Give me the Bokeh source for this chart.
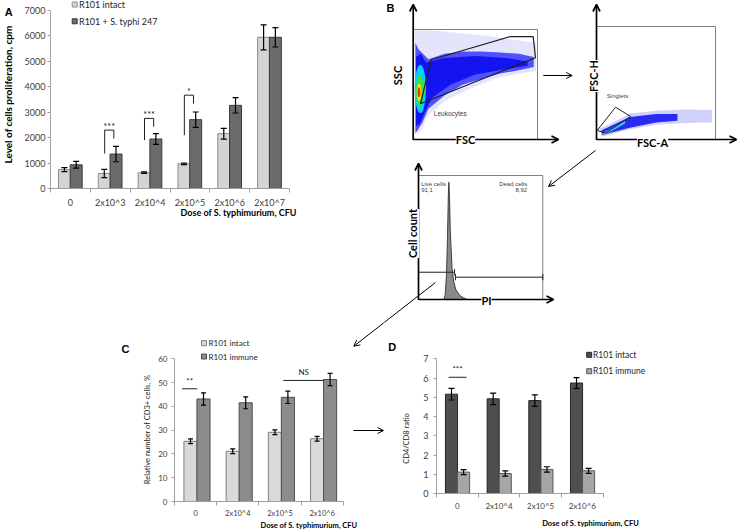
from math import pi
from bokeh.plotting import figure
from bokeh.models import (Range1d, FixedTicker, ColumnDataSource, Whisker, TeeHead,
                          Label, Arrow, OpenHead, Title)
from bokeh.layouts import row, column
from bokeh.embed import file_html
from bokeh.resources import INLINE

# ---------------- Panel A data ----------------
A_doses = ["0", "2x10^3", "2x10^4", "2x10^5", "2x10^6", "2x10^7"]
A_intact = [740, 590, 620, 970, 2150, 5930]
A_intact_err = [80, 160, 30, 30, 210, 490]
A_typhi = [930, 1350, 1940, 2700, 3260, 5930]
A_typhi_err = [130, 300, 210, 300, 300, 380]
A_yticks = [0, 1000, 2000, 3000, 4000, 5000, 6000, 7000]
A_series = ["R101 intact", "R101 + S. typhi 247"]
A_sig_cat = [1, 2, 3]
A_sig_left_low = [1370, 1900, 2090]
A_sig_top = [2290, 2750, 3660]
A_sig_right_low = [1960, 2420, 3330]
A_sig_text = ["***", "***", "*"]

# ---------------- Panel C data ----------------
C_doses = ["0", "2x10^4", "2x10^5", "2x10^6"]
C_intact = [25.3, 21.1, 29.1, 26.4]
C_intact_err = [1.0, 1.0, 1.0, 1.0]
C_immune = [43.1, 41.5, 43.8, 51.3]
C_immune_err = [2.6, 2.5, 2.6, 2.6]
C_yticks = [0, 10, 20, 30, 40, 50, 60]
C_series = ["R101 intact", "R101 immune"]
C_sig_from = [0.18, 2.58]
C_sig_to = [0.54, 3.54]
C_sig_y = [47.4, 50.9]
C_sig_text = ["**", "NS"]

# ---------------- Panel D data ----------------
D_doses = ["0", "2x10^4", "2x10^5", "2x10^6"]
D_intact = [5.16, 4.92, 4.83, 5.74]
D_intact_err = [0.30, 0.30, 0.30, 0.28]
D_immune = [1.11, 1.04, 1.25, 1.18]
D_immune_err = [0.13, 0.14, 0.14, 0.13]
D_yticks = [0, 1, 2, 3, 4, 5, 6, 7]
D_series = ["R101 intact", "R101 immune"]
D_sig_from = [0.29]
D_sig_to = [0.72]
D_sig_y = [6.04]
D_sig_text = ["***"]

# ---------------- Panel B (flow cytometry, each plot in its own 0-100 units) ----------------
LEUK_GATE_X = [5.6, 14.3, 78.2, 96.5, 98.4]
LEUK_GATE_Y = [32.5, 72.5, 93.6, 93.6, 74.3]
SSC_HAZE_X = [1, 1, 15, 35, 60, 85, 99, 99, 85, 65, 45, 25, 12, 6]
SSC_HAZE_Y = [5, 99, 99, 97, 94, 90, 88, 62, 60, 55, 46, 35, 22, 8]
SSC_BAND_X = [1.5, 4, 12, 25, 40, 55, 70, 85, 97, 97, 85, 70, 55, 40, 25, 12, 7, 3, 1.5]
SSC_BAND_Y = [88, 82, 73, 78, 80, 80, 79, 78, 75, 66, 63, 60, 55, 50, 40, 28, 15, 8, 6]
SSC_CORE_X = [2, 6, 10, 25, 50, 75, 92, 92, 75, 50, 30, 15, 9, 5, 2]
SSC_CORE_Y = [75, 78, 70, 74, 76, 74, 71, 67, 64, 59, 50, 38, 24, 14, 12]
SSC_HOT_X = [5.5, 8.5, 5.0, 4.6, 4.4]
SSC_HOT_Y = [46, 47, 44, 43, 43]
SSC_HOT_W = [9, 3, 6, 3.5, 2.2]
SSC_HOT_H = [44, 14, 30, 16, 9]

SING_GATE_X = [0.6, 16, 28.6, 7.6]
SING_GATE_Y = [8.0, 28.6, 20.4, 5.6]
FSC_HAZE_X = [3, 12, 28, 50, 75, 97, 97, 75, 50, 28, 12, 4]
FSC_HAZE_Y = [10, 14, 23, 25.5, 26.5, 26, 15, 14.5, 13, 9, 4.5, 2.5]
FSC_BAND_X = [4, 12, 28, 50, 68, 68, 50, 28, 12, 5]
FSC_BAND_Y = [8, 12, 20, 22.5, 22.5, 16.5, 15, 10.5, 6, 4]
FSC_CORE_X = [5, 12, 24, 24, 12, 6]
FSC_CORE_Y = [5.5, 9.5, 16.5, 14, 7, 4]

HIST_X = [20.4, 21.5, 22.5, 23.3, 24.0, 24.4, 24.9, 25.6, 26.3, 27.0, 28.5, 30, 33, 36, 39.2]
HIST_Y = [0, 4, 20, 50, 85, 94.6, 85, 55, 40, 25, 14, 8, 3.5, 1.5, 0]
GATE_X0 = [0, 29.8]
GATE_X1 = [29, 100]
GATE_Y = [22, 18]
GATE_NAMES = ["Live cells", "Dead cells"]
GATE_PCT = ["91,1", "8,92"]

X_TITLE = "Dose of S. typhimurium, CFU"

# ---------------- layout helpers ----------------
FONT = "Lato"
LETTER_FONT = "Liberation Sans"
AXIS_GRAY = "#a0a0a0"
TICK_TXT = "#404040"


class Panel:
    """A figure occupying page rectangle (ox, oy, w, h); its frame at (fl, ft, fw, fh) inside."""

    def __init__(self, ox, oy, w, h, fl, ft, fw, fh, xr, yr, axes=True):
        self.ox, self.oy, self.w, self.h = ox, oy, w, h
        self.fl, self.ft, self.fw, self.fh = fl, ft, fw, fh
        self.xr, self.yr = xr, yr
        kw = {} if axes else dict(x_axis_type=None, y_axis_type=None)
        self.p = figure(width=w, height=h, x_range=Range1d(*xr), y_range=Range1d(*yr),
                        min_border_left=fl, min_border_top=ft,
                        min_border_right=w - fl - fw, min_border_bottom=h - ft - fh,
                        output_backend="svg", toolbar_location=None, **kw)
        p = self.p
        p.outline_line_color = None
        p.background_fill_color = "white"
        p.border_fill_color = "white"
        p.grid.visible = False

    def d(self, rx, ry):
        lx, ly = rx - self.ox, ry - self.oy
        x0, x1 = self.xr
        y0, y1 = self.yr
        return (x0 + (lx - self.fl) / self.fw * (x1 - x0),
                y0 + (self.ft + self.fh - ly) / self.fh * (y1 - y0))

    def text(self, rx, ry, s, size, bold=False, font=FONT, color="black", angle=0,
             align="center", bg=None):
        x, y = self.d(rx, ry)
        self.p.add_layout(Label(x=x, y=y, text=s, text_font=font, text_font_size=f"{size}px",
                                text_font_style="bold" if bold else "normal",
                                text_color=color, angle=angle, text_align=align,
                                text_baseline="middle", background_fill_color=bg))

    def arrow(self, r0, r1, lw=1.0, head=6):
        x0, y0 = self.d(*r0)
        x1, y1 = self.d(*r1)
        self.p.add_layout(Arrow(x_start=x0, y_start=y0, x_end=x1, y_end=y1,
                                line_width=lw, line_color="black",
                                end=OpenHead(size=head, line_width=lw, line_color="black")))

    def legend(self, names, fills, lines, rx_sq, ry_list, rx_text, font_px, sq=5):
        pts = [self.d(rx_sq, ry) for ry in ry_list]
        self.p.rect(x=[p[0] for p in pts], y=[p[1] for p in pts], width=sq, height=sq,
                    width_units="screen", height_units="screen",
                    fill_color=fills, line_color=lines, line_width=1)
        for name, ry in zip(names, ry_list):
            self.text(rx_text, ry, name, font_px, color="#262626", align="left")

    def xtitle(self, s, rx_left, size, standoff):
        self.p.add_layout(Title(text=s, align="left", offset=rx_left - (self.ox + self.fl),
                                standoff=standoff, text_font=FONT,
                                text_font_size=f"{size}px", text_font_style="bold",
                                text_color="black"), "below")


def style_axes(P, labels, yticks, ysize, xsize, xstand, ystand):
    p = P.p
    n = len(labels)
    xa, ya = p.xaxis[0], p.yaxis[0]
    xa.bounds = (0, n)
    ya.bounds = (yticks[0], yticks[-1])
    xa.ticker = FixedTicker(ticks=[i + 0.5 for i in range(n)], minor_ticks=list(range(n + 1)))
    xa.major_label_overrides = {i + 0.5: lab for i, lab in enumerate(labels)}
    xa.major_tick_out = 0
    xa.major_tick_in = 0
    xa.minor_tick_out = 4
    xa.minor_tick_in = 0
    xa.major_label_standoff = xstand
    ya.ticker = FixedTicker(ticks=yticks)
    ya.major_tick_out = 3
    ya.major_tick_in = 0
    ya.minor_tick_out = 0
    ya.minor_tick_in = 0
    ya.major_label_standoff = ystand
    for ax, sz in ((xa, xsize), (ya, ysize)):
        ax.axis_line_color = AXIS_GRAY
        ax.major_tick_line_color = AXIS_GRAY
        ax.minor_tick_line_color = AXIS_GRAY
        ax.major_label_text_font = FONT
        ax.major_label_text_font_size = f"{sz}px"
        ax.major_label_text_color = TICK_TXT


def bars(P, vals, errs, offset, width, fill, line, head):
    n = len(vals)
    src = ColumnDataSource(dict(
        x=[i + 0.5 + offset for i in range(n)], top=vals,
        upper=[v + e for v, e in zip(vals, errs)],
        lower=[v - e for v, e in zip(vals, errs)]))
    P.p.vbar(x="x", top="top", width=width, bottom=0, source=src,
             fill_color=fill, line_color=line, line_width=1)
    P.p.add_layout(Whisker(source=src, base="x", upper="upper", lower="lower",
                           level="annotation", line_color="black", line_width=1.2,
                           upper_head=TeeHead(size=head, line_color="black", line_width=1.2),
                           lower_head=TeeHead(size=head, line_color="black", line_width=1.2)))


def sig_lines(P, a_list, b_list, y_list, texts, size, yoff):
    P.p.multi_line(xs=[[a, b] for a, b in zip(a_list, b_list)],
                   ys=[[y, y] for y in y_list], line_color="#202020", line_width=1)
    for a, b, y, s in zip(a_list, b_list, y_list, texts):
        P.p.add_layout(Label(x=(a + b) / 2, y=y, y_offset=yoff, text=s, text_font=FONT,
                             text_font_size=f"{size}px", text_align="center",
                             text_baseline="middle", text_color="#202020"))


# ================= Panel A =================
A_FILL = ["#d4d4d4", "#6b6b6b"]
A_LINE = ["#8c8c8c", "#3a3a3a"]
Astrip = Panel(0, 0, 15, 322, 0, 0, 15, 188, (0, 15), (0, 188), axes=False)
Astrip.text(8.3, 11.5, "A", 11, bold=True, font=LETTER_FONT)
Astrip.text(7.5, 94, "Level of cells proliferation, cpm", 10, bold=True, angle=pi / 2)

A = Panel(15, 0, 366, 322, 35, 0, 239, 188, (0, 6), (0, 188 / 178.5 * 7000))
style_axes(A, A_doses, A_yticks, 9, 9, 4, 2)
bars(A, A_intact, A_intact_err, -0.15, 0.3, A_FILL[0], A_LINE[0], 6)
bars(A, A_typhi, A_typhi_err, 0.145, 0.3, A_FILL[1], A_LINE[1], 6)
xs, ys = [], []
for c, lo, tp, ro in zip(A_sig_cat, A_sig_left_low, A_sig_top, A_sig_right_low):
    xs.append([c + 0.36, c + 0.36, c + 0.59, c + 0.59])
    ys.append([lo, tp, tp, ro])
A.p.multi_line(xs=xs, ys=ys, line_color="#202020", line_width=1)
for c, tp, s in zip(A_sig_cat, A_sig_top, A_sig_text):
    A.p.add_layout(Label(x=c + 0.475, y=tp, y_offset=4, text=s, text_font=FONT,
                         text_font_size="9px", text_align="center", text_baseline="middle",
                         text_color="#202020"))
A.legend(A_series, A_FILL, A_LINE, 74.2, [4.0, 20.8], 78.5, 9)
A.xtitle(X_TITLE, 180, 9, -11)

# ================= Panel B =================
B = Panel(381, 0, 357, 322, 0, 0, 357, 322, (0, 357), (0, 322), axes=False)
pb = B.p


def sub_for(box):
    x0, y0 = B.d(box[0], box[3])
    x1, y1 = B.d(box[2], box[1])
    return pb.subplot(x_source=Range1d(0, 100), y_source=Range1d(0, 100),
                      x_target=Range1d(x0, x1), y_target=Range1d(y0, y1))


DOT1 = (413, 29, 537, 139)
DOT2 = (596, 26, 715, 139)
HIST = (418, 175, 542.3, 299)

s1 = sub_for(DOT1)
s1.patch(SSC_HAZE_X, SSC_HAZE_Y, fill_color="#e4e4fd", line_color=None)
s1.patch(SSC_BAND_X, SSC_BAND_Y, fill_color="#5050ff", line_color=None)
s1.patch(SSC_CORE_X, SSC_CORE_Y, fill_color="#1414f0", line_color=None)
s1.ellipse(x=SSC_HOT_X, y=SSC_HOT_Y, width=SSC_HOT_W, height=SSC_HOT_H,
           fill_color=["#00d0ff", "#38d870", "#40e040", "#f0f000", "#ff2a00"], line_color=None)
s1.quad(left=0, right=100, bottom=0, top=100, fill_color=None, line_color="#808080", line_width=1)
s1.patch(LEUK_GATE_X + LEUK_GATE_X[:1], LEUK_GATE_Y + LEUK_GATE_Y[:1], fill_color=None,
         line_color="#202020", line_width=1.2)

s2 = sub_for(DOT2)
s2.patch(FSC_HAZE_X, FSC_HAZE_Y, fill_color="#d0d0fc", line_color=None)
s2.patch(FSC_BAND_X, FSC_BAND_Y, fill_color="#2a2af5", line_color=None)
s2.patch(FSC_CORE_X, FSC_CORE_Y, fill_color="#30c8e0", line_color=None)
s2.quad(left=0, right=100, bottom=0, top=100, fill_color=None, line_color="#808080", line_width=1)
s2.patch(SING_GATE_X + SING_GATE_X[:1], SING_GATE_Y + SING_GATE_Y[:1], fill_color=None,
         line_color="#202020", line_width=1)

s3 = sub_for(HIST)
s3.quad(left=0, right=100, bottom=0, top=100, fill_color=None, line_color="#808080", line_width=1)
s3.patch(HIST_X, HIST_Y, fill_color="#8a8a8a", line_color="#202020", line_width=0.8)
s3.segment(x0=GATE_X0, y0=GATE_Y, x1=GATE_X1, y1=GATE_Y, line_color="#202020", line_width=1)
tick_x = [GATE_X1[0], GATE_X0[1], GATE_X1[1]]
tick_y = [GATE_Y[0], GATE_Y[1], GATE_Y[1]]
s3.segment(x0=tick_x, y0=[v - 2.5 for v in tick_y], x1=tick_x, y1=[v + 2.5 for v in tick_y],
           line_color="#202020", line_width=1)

for r0, r1 in [((412.7, 139.5), (412.7, 4)), ((412.7, 139), (558, 139)),
               ((596, 139.5), (596, 4)), ((596, 139), (736, 139)),
               ((418, 299.5), (418, 163)), ((418, 299), (553, 299))]:
    B.arrow(r0, r1, lw=1.7, head=7)
B.arrow((542.7, 75), (571.7, 75), lw=1, head=6)
B.arrow((595, 150), (548, 186), lw=1, head=6)
B.arrow((435, 282), (353.3, 345.7), lw=1, head=6)

B.text(390, 7.5, "B", 11, bold=True, font=LETTER_FONT)
B.text(397, 75, "SSC", 11, bold=True, angle=pi / 2)
B.text(465, 138.5, "FSC", 11, bold=True, bg="white")
B.text(593.3, 75.5, "FSC-H", 11, bold=True, angle=pi / 2, bg="white")
B.text(652, 142, "FSC-A", 11, bold=True, bg="white")
B.text(412.3, 233, "Cell count", 11, bold=True, angle=pi / 2, bg="white")
B.text(486, 299.5, "PI", 11, bold=True, bg="white")
B.text(433.3, 113.3, "Leukocytes", 6.5, font=LETTER_FONT, color="#404040", align="left")
B.text(617, 95, "Singlets", 6, font=LETTER_FONT, color="#404040")
B.text(420.7, 183.3, GATE_NAMES[0], 6, font=LETTER_FONT, color="#404040", align="left")
B.text(420.7, 189.5, GATE_PCT[0], 6, font=LETTER_FONT, color="#404040", align="left")
B.text(526.7, 183.3, GATE_NAMES[1], 6, font=LETTER_FONT, color="#404040", align="right")
B.text(526.7, 189.5, GATE_PCT[1], 6, font=LETTER_FONT, color="#404040", align="right")

# ================= Panel C =================
C_FILL = ["#d9d9d9", "#8c8c8c"]
C_LINE = ["#7f7f7f", "#4d4d4d"]
Cleft = Panel(0, 322, 152, 208, 0, 0, 152, 179, (0, 152), (0, 179), axes=False)
Cleft.text(125, 348, "C", 11, bold=True, font=LETTER_FONT)
Cleft.text(146.7, 429, "Relative number of CD3+ cells, %", 7.5, angle=pi / 2, color="#202020")

C = Panel(152, 322, 234, 208, 22, 0, 212, 179, (0, 212 / 42.2), (0, 179 / 142.7 * 60))
style_axes(C, C_doses, C_yticks, 8, 7.5, 3, 4)
bars(C, C_intact, C_intact_err, -0.121, 0.31, C_FILL[0], C_LINE[0], 5)
bars(C, C_immune, C_immune_err, 0.187, 0.31, C_FILL[1], C_LINE[1], 5)
sig_lines(C, C_sig_from, C_sig_to, C_sig_y, C_sig_text, 8, 8)
C.legend(C_series, C_FILL, C_LINE, 203.5, [342.7, 356.0], 208.0, 8)
C.arrow((435, 282), (353.3, 345.7), lw=1, head=6)
C.arrow((353, 430), (383, 430), lw=1, head=6)
C.xtitle(X_TITLE, 260, 7.5, -3)

# ================= Panel D =================
D_FILL = ["#4f4f4f", "#a6a6a6"]
D_LINE = ["#262626", "#595959"]
Dleft = Panel(386, 322, 27, 208, 0, 0, 27, 171, (0, 27), (0, 171), axes=False)
Dleft.text(391.7, 346, "D", 11, bold=True, font=LETTER_FONT)
Dleft.text(406, 438, "CD4/CD8 ratio", 7.5, angle=pi / 2, color="#202020")

D = Panel(413, 322, 325, 208, 23, 0, 302, 171, (0, 302 / 41.67), (0, 171 / 19.243))
style_axes(D, D_doses, D_yticks, 9, 8, 3, 5)
bars(D, D_intact, D_intact_err, -0.14, 0.29, D_FILL[0], D_LINE[0], 6)
bars(D, D_immune, D_immune_err, 0.15, 0.29, D_FILL[1], D_LINE[1], 6)
sig_lines(D, D_sig_from, D_sig_to, D_sig_y, D_sig_text, 8, 8)
D.legend(D_series, D_FILL, D_LINE, 588.7, [354.3, 370.7], 592.5, 8.5)
D.xtitle(X_TITLE, 541.7, 7.5, 6)

# every figure in its own column so that Bokeh does not align their frames
top = row(column(Astrip.p), column(A.p), column(B.p))
bottom = row(column(Cleft.p), column(C.p), column(Dleft.p), column(D.p))
layout = column(top, bottom)
open("out.html", "w").write(file_html(layout, INLINE))
